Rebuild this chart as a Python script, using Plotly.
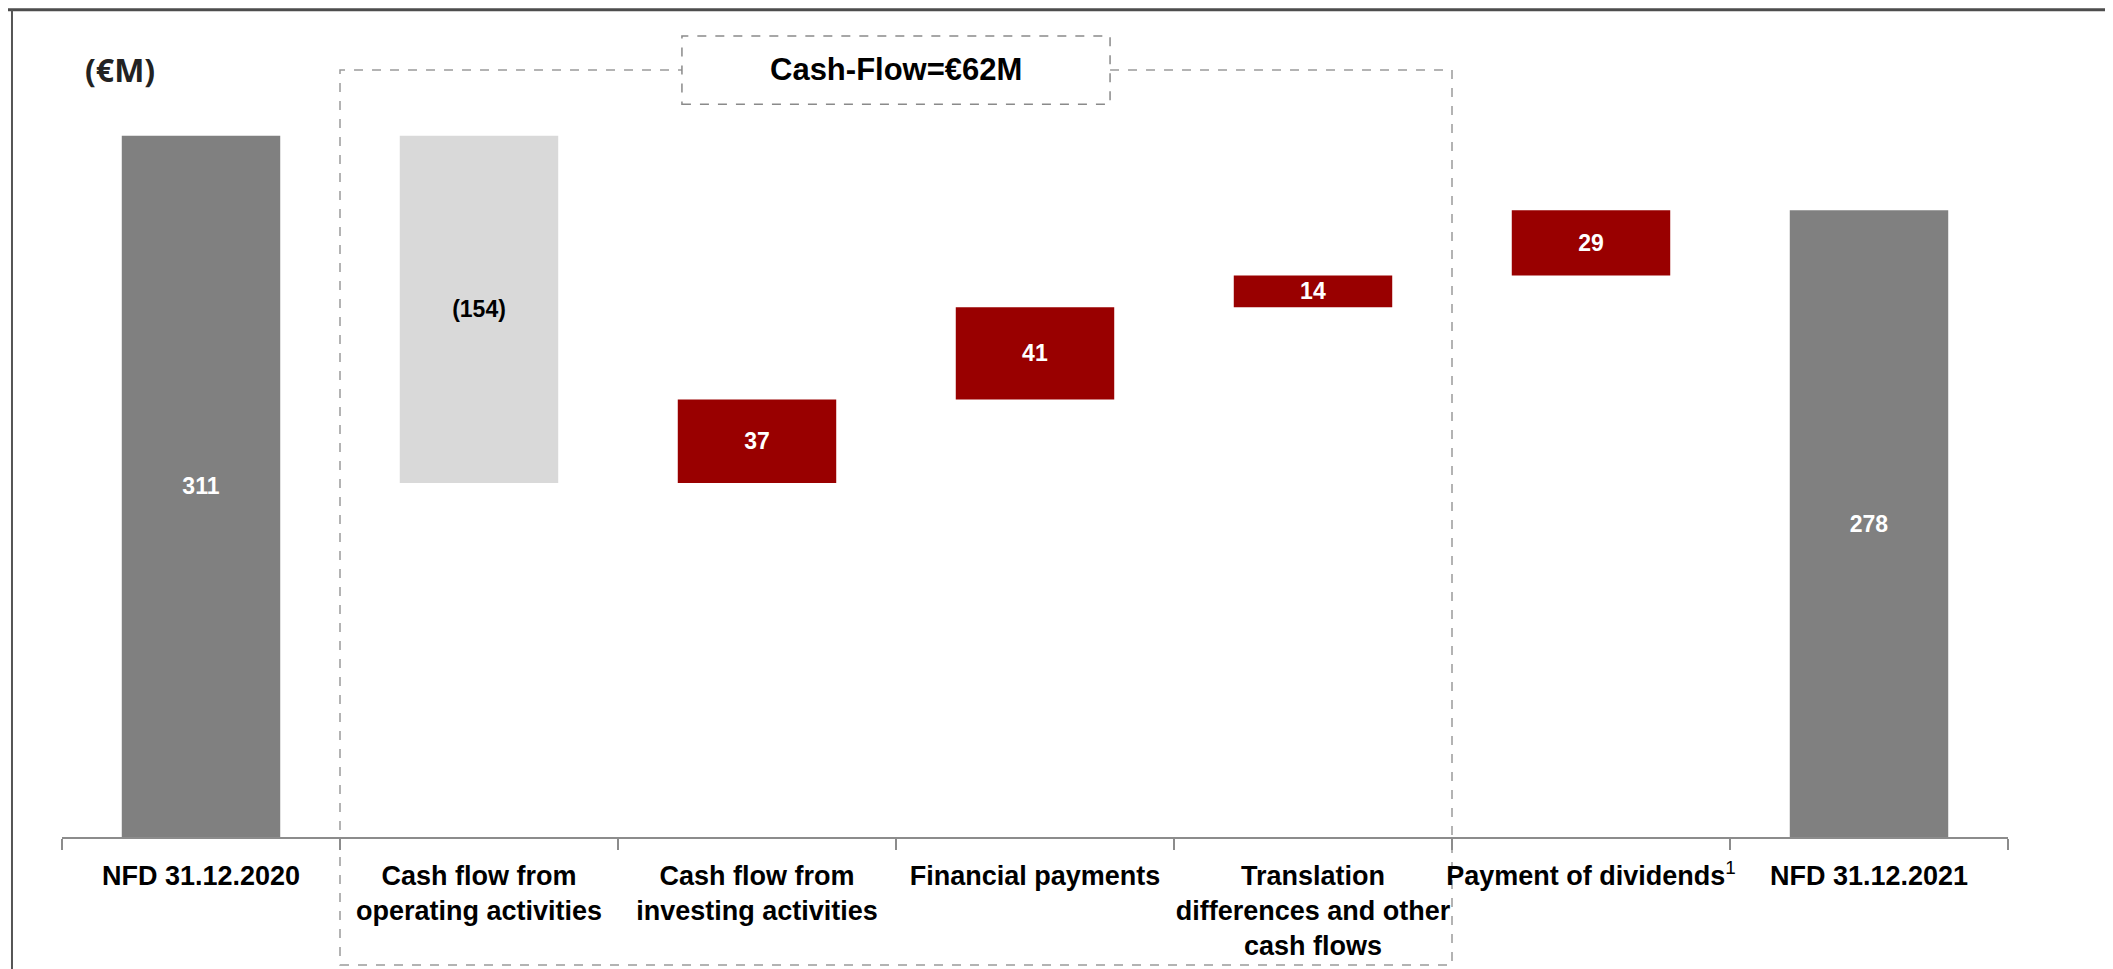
import plotly.graph_objects as go

# Net financial debt bridge 2020 -> 2021 (EUR M)
categories = [
    "NFD 31.12.2020",
    "Cash flow from<br>operating activities",
    "Cash flow from<br>investing activities",
    "Financial payments",
    "Translation<br>differences and other<br>cash flows",
    "Payment of dividends<sup><span style='font-weight:normal'>1</span></sup>",
    "NFD 31.12.2021",
]
measures = ["absolute", "relative", "relative", "relative", "relative", "relative", "total"]
values = [311, -154, 37, 41, 14, 29, 0]

end_value = sum(values)
labels = []
for m, v in zip(measures, values):
    v = end_value if m == "total" else v
    labels.append(f"({abs(v)})" if v < 0 else str(v))
label_colors = ["black" if v < 0 else "white" for v in values]

FONT = "Liberation Sans, Arial, sans-serif"
DARK_GREY = "#808080"
LIGHT_GREY = "#D9D9D9"
RED = "#990000"

fig = go.Figure(go.Waterfall(
    x=categories,
    y=values,
    measure=measures,
    text=labels,
    textposition="inside",
    insidetextanchor="middle",
    textangle=0,
    constraintext="none",
    textfont=dict(family=FONT, size=23, color=label_colors, weight="bold"),
    totals=dict(marker=dict(color=DARK_GREY)),
    increasing=dict(marker=dict(color=RED)),
    decreasing=dict(marker=dict(color=LIGHT_GREY)),
    connector=dict(visible=False),
    width=0.57,
    hoverinfo="skip",
))

fig.update_xaxes(
    type="category",
    range=[-0.5, 6.5],
    automargin=False,
    tickangle=0,
    showline=True, linecolor="#8c8c8c", linewidth=1.5,
    ticks="outside", tickson="boundaries", ticklen=11, tickcolor="#8c8c8c", tickwidth=1.5,
    ticklabelstandoff=14,
    tickfont=dict(family=FONT, size=27, color="black", weight="bold"),
    showgrid=False,
)
fig.update_yaxes(visible=False, range=[0, 330], showgrid=False, automargin=False)

dash_grey = "#9a9a9a"
fig.update_layout(
    width=2105, height=961,
    margin=dict(l=54, r=105, t=85, b=132, autoexpand=False),
    plot_bgcolor="white", paper_bgcolor="white",
    showlegend=False,
    shapes=[
        # outer frame (top and left edges)
        dict(type="line", xref="paper", yref="paper", x0=-0.03, x1=1.06, y0=1.112, y1=1.112,
             line=dict(color="#4d4d4d", width=3)),
        dict(type="line", xref="paper", yref="paper", x0=-0.0257, x1=-0.0257, y0=1.112, y1=-0.2,
             line=dict(color="#555555", width=2)),
        # dashed bracket around the cash-flow items
        dict(type="rect", xref="x", yref="paper", x0=0.5, x1=4.5, y0=-0.172, y1=1.031,
             line=dict(color=dash_grey, width=1.5, dash="dash"), layer="below"),
        dict(type="rect", xref="x", yref="paper", x0=1.73, x1=3.27, y0=0.985, y1=1.0766,
             fillcolor="white", line=dict(color="#8a8a8a", width=1.5, dash="dash"), layer="above"),
    ],
    annotations=[
        dict(text="Cash-Flow=€62M", xref="x", yref="paper", x=2.5, y=1.031,
             showarrow=False, xanchor="center", yanchor="middle",
             font=dict(family=FONT, size=31, color="black", weight="bold")),
        dict(text="(€M)", xref="paper", yref="paper", x=0.0298, y=1.031,
             showarrow=False, xanchor="center", yanchor="middle",
             font=dict(family="Open Sans, sans-serif", size=32, color="#222222", weight="bold")),
    ],
)

fig.write_html("out.html")
